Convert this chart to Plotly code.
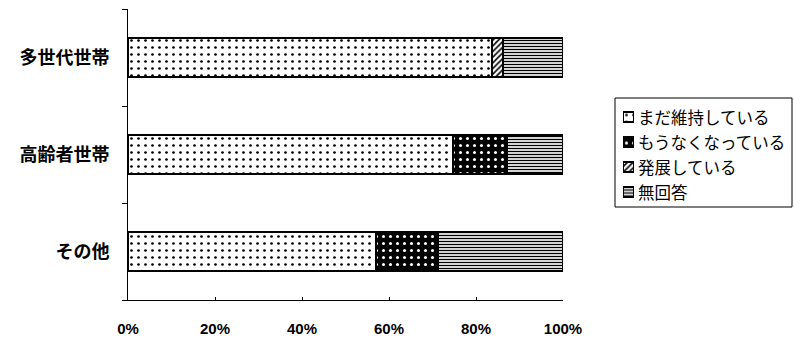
import plotly.graph_objects as go

categories = ["多世代世帯", "高齢者世帯", "その他"]
series_names = ["まだ維持している", "もうなくなっている", "発展している", "無回答"]
still_kept = [83.7, 74.7, 57.0]
gone = [0.0, 12.4, 14.3]
developing = [2.5, 0.0, 0.0]
no_answer = [13.8, 12.9, 28.7]
x_ticks = [0, 20, 40, 60, 80, 100]
x_tick_labels = ["0%", "20%", "40%", "60%", "80%", "100%"]

values = [still_kept, gone, developing, no_answer]
patterns = [
    dict(shape=".", fgcolor="black", bgcolor="white", size=7, solidity=0.12, fillmode="replace"),
    dict(shape=".", fgcolor="white", bgcolor="black", size=7, solidity=0.15, fillmode="replace"),
    dict(shape="/", fgcolor="black", bgcolor="white", size=4, solidity=0.4, fillmode="replace"),
    dict(shape="-", fgcolor="black", bgcolor="white", size=3, solidity=0.45, fillmode="replace"),
]

# pixel geometry (figure 794x339)
W, H = 794, 339
ML, MR, MT, MB = 128, 0, 9, 39
PW = W - ML - MR
PH = H - MT - MB


def px_x(p):
    return (p - ML) / PW


def px_y(p):
    return (H - MB - p) / PH


fig = go.Figure()
for name, vals, pat in zip(series_names, values, patterns):
    fig.add_trace(go.Bar(
        y=categories, x=vals, name=name, orientation="h",
        marker=dict(color="white", pattern=pat, line=dict(color="black", width=1.5)),
        xaxis="x", yaxis="y", showlegend=False,
    ))

# legend swatches (custom legend)
for i, (name, pat) in enumerate(zip(series_names, patterns)):
    fig.add_trace(go.Bar(
        y=[i], x=[1], orientation="h", width=0.4,
        marker=dict(color="white", pattern=pat, line=dict(color="black", width=1.2)),
        xaxis="x2", yaxis="y2", showlegend=False, hoverinfo="skip",
    ))

row_top, row_h = 104.5, 25
fig.update_layout(
    width=W, height=H,
    barmode="stack", bargap=0.6,
    plot_bgcolor="white", paper_bgcolor="white",
    margin=dict(l=ML, r=MR, t=MT, b=MB, autoexpand=False),
    font=dict(family="Noto Sans CJK JP", color="black"),
    showlegend=False,
    xaxis=dict(
        domain=[0, px_x(563)],
        range=[0, 100], tickvals=x_ticks, ticktext=x_tick_labels,
        showgrid=False, zeroline=False, showline=True, linecolor="black", linewidth=1,
        ticks="inside", ticklen=3, tickcolor="black", automargin=False,
        tickfont=dict(size=15, family="Liberation Sans", color="black", weight="bold"),
        ticklabelstandoff=15,
    ),
    yaxis=dict(
        categoryorder="array", categoryarray=categories[::-1],
        showgrid=False, zeroline=False, showline=True, linecolor="black", linewidth=1,
        ticks="outside", ticklen=5, tickcolor="black", tickson="boundaries",
        automargin=False,
        tickfont=dict(size=18, family="Noto Sans CJK JP", color="black", weight="bold"),
        ticklabelstandoff=14, range=[-0.5, 2.5],
    ),
    xaxis2=dict(
        domain=[px_x(623), px_x(634)], range=[0, 1], anchor="y2",
        visible=False, fixedrange=True, automargin=False,
    ),
    yaxis2=dict(
        domain=[px_y(row_top + 4 * row_h), px_y(row_top)], range=[3.5, -0.5],
        anchor="x2", visible=False, fixedrange=True, automargin=False,
    ),
)

for i, name in enumerate(series_names):
    fig.add_annotation(
        xref="paper", yref="paper", x=px_x(636), y=px_y(row_top + row_h * (i + 0.5)),
        text=name, showarrow=False, xanchor="left", yanchor="middle",
        font=dict(size=16.5, family="Noto Sans CJK JP", color="black"),
    )

fig.add_shape(
    type="rect", xref="paper", yref="paper",
    x0=px_x(615), x1=px_x(792), y0=px_y(207), y1=px_y(98),
    line=dict(color="black", width=1), fillcolor="rgba(0,0,0,0)", layer="below",
)

fig.write_html("out.html")
